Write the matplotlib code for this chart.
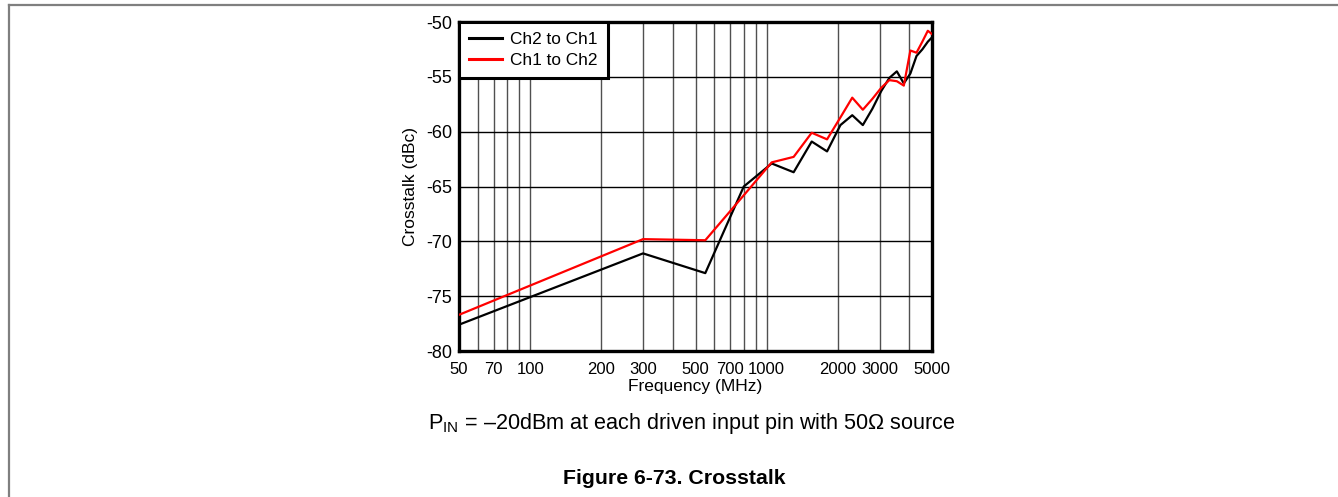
import matplotlib
matplotlib.use("Agg")
import matplotlib.pyplot as plt
from matplotlib.lines import Line2D
from matplotlib.ticker import FixedLocator, NullFormatter, LogLocator

plt.rcParams['font.family'] = ['Liberation Sans', 'DejaVu Sans']
plt.rcParams['mathtext.fontset'] = 'custom'
plt.rcParams['mathtext.rm'] = 'Liberation Sans'
plt.rcParams['mathtext.it'] = 'Liberation Sans:italic'
plt.rcParams['mathtext.bf'] = 'Liberation Sans:bold'

# Data
freq_mhz = [50, 300, 550, 800, 1050, 1300, 1550, 1800, 2050, 2300, 2550, 2800,
            3050, 3300, 3550, 3800, 4050, 4300, 4550, 4800, 5000]
ch2_to_ch1 = [-77.6, -71.1, -72.9, -65.0, -62.9, -63.7, -60.9, -61.8, -59.4, -58.5,
              -59.4, -57.9, -56.3, -55.1, -54.5, -55.6, -54.7, -53.1, -52.5, -51.8, -51.4]
ch1_to_ch2 = [-76.7, -69.8, -69.9, -65.8, -62.8, -62.3, -60.1, -60.7, -58.7, -56.9,
              -58.0, -57.0, -56.0, -55.3, -55.4, -55.8, -52.6, -52.8, -51.8, -50.8, -51.1]
x_ticks = [50, 70, 100, 200, 300, 500, 700, 1000, 2000, 3000, 5000]
x_tick_labels = ['50', '70', '100', '200', '300', '500', '700', '1000', '2000', '3000', '5000']
y_ticks = [-80, -75, -70, -65, -60, -55, -50]
series_labels = ['Ch2 to Ch1', 'Ch1 to Ch2']

fig = plt.figure(figsize=(13.38, 4.97), dpi=100)
ax = fig.add_axes([459/1338, 1-351/497, (932-459)/1338, (351-22)/497])

ax.plot(freq_mhz, ch2_to_ch1, color='black', lw=1.6, label=series_labels[0], zorder=3)
ax.plot(freq_mhz, ch1_to_ch2, color='#ff0000', lw=1.6, label=series_labels[1], zorder=3)

ax.set_xscale('log')
ax.set_xlim(50, 5000)
ax.set_ylim(-80, -50)
ax.xaxis.set_major_locator(FixedLocator(x_ticks))
ax.set_xticklabels(x_tick_labels)
ax.xaxis.set_minor_locator(LogLocator(base=10, subs=range(1, 10), numticks=20))
ax.xaxis.set_minor_formatter(NullFormatter())
ax.set_yticks(y_ticks)
ax.set_yticklabels([str(v) for v in y_ticks])

ax.grid(True, which='both', axis='x', color='#505050', lw=1.0)
ax.grid(True, which='major', axis='y', color='black', lw=1.0)
ax.set_axisbelow(True)

ax.tick_params(which='both', length=0, labelsize=12)
ax.tick_params(axis='y', labelsize=13)
ax.tick_params(axis='x', pad=8)
ax.tick_params(axis='y', pad=5)
for s in ax.spines.values():
    s.set_linewidth(2.4)
    s.set_color('black')

ax.set_xlabel('Frequency (MHz)', fontsize=12.5, labelpad=1)
ax.set_ylabel('Crosstalk (dBc)', fontsize=12.5, labelpad=6)

leg = ax.legend(loc='upper left', borderaxespad=0, fancybox=False, framealpha=1,
                edgecolor='black', fontsize=12.4, handlelength=1.9, handletextpad=0.45,
                borderpad=0.6, labelspacing=0.3)
leg.get_frame().set_linewidth(2.2)
for h in leg.get_lines():
    h.set_linewidth(2.2)
leg.set_zorder(5)

fig.text(692/1338, 1-424/497, r'P$_{\mathrm{IN}}$ = –20dBm at each driven input pin with 50Ω source',
         ha='center', va='center', fontsize=15.6)
fig.text(674/1338, 1-478/497, 'Figure 6-73. Crosstalk', ha='center', va='center',
         fontsize=15.3, fontweight='bold')

# outer frame lines (top and left)
fig.add_artist(Line2D([9/1338, 1], [1-5/497, 1-5/497], transform=fig.transFigure,
                      color='#7f7f7f', lw=1.6))
fig.add_artist(Line2D([9/1338, 9/1338], [0, 1-5/497], transform=fig.transFigure,
                      color='#7f7f7f', lw=1.6))

fig.savefig('out.png', dpi=100)
